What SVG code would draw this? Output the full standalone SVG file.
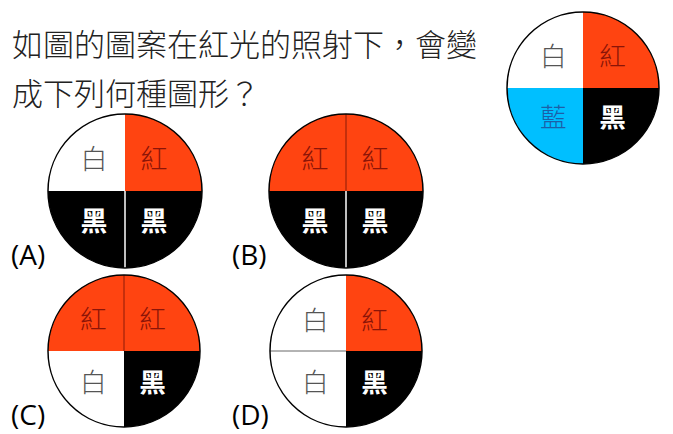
<svg xmlns="http://www.w3.org/2000/svg" width="673" height="434" viewBox="0 0 673 434">
<style>
.q{font-family:"Noto Sans CJK TC","Noto Sans CJK SC",sans-serif;font-size:31px;font-weight:300;fill:#222}
.lab{font-family:"Noto Sans CJK TC",sans-serif;font-size:27px;font-weight:300;text-anchor:middle}
.w{fill:#555}
.r{fill:#8a1408}
.b{fill:#1c5fa8}
.k{fill:#fff;font-weight:bold}
.opt{font-family:"Open Sans","Liberation Sans",sans-serif;font-size:28px;fill:#000}
.red{fill:#ff4411}
.wh{fill:#fff}
.blk{fill:#000}
.blu{fill:#00bfff}
.ring{fill:none;stroke:#000;stroke-width:1.5}
</style>
<defs>
<path id="TL" d="M0,0 L-77,0 A77,77 0 0 1 0,-77 Z"/>
<path id="TR" d="M0,0 L0,-77 A77,77 0 0 1 77,0 Z"/>
<path id="BR" d="M0,0 L77,0 A77,77 0 0 1 0,77 Z"/>
<path id="BL" d="M0,0 L0,77 A77,77 0 0 1 -77,0 Z"/>
</defs>
<rect width="673" height="434" fill="#fff"/>
<g id="question">
<text class="q" x="12" y="56">如圖的圖案在紅光的照射下，會變</text>
<text class="q" x="12" y="105">成下列何種圖形？</text>
</g>
<g id="original" transform="translate(583,88) scale(0.987)">
<use href="#TL" class="wh"/><use href="#TR" class="red"/><use href="#BR" class="blk"/><use href="#BL" class="blu"/>
<circle r="77" class="ring"/>
<text class="lab w" x="-30" y="-22">白</text>
<text class="lab r" x="30" y="-22">紅</text>
<text class="lab b" x="-30" y="40">藍</text>
<text class="lab k" x="30" y="40">黑</text>
</g>
<g id="optionA" transform="translate(125,191)">
<use href="#TL" class="wh"/><use href="#TR" class="red"/><use href="#BR" class="blk"/><use href="#BL" class="blk"/>
<line x1="0" y1="0" x2="0" y2="77" stroke="#fff" stroke-width="1.5"/>
<circle r="77" class="ring"/>
<text class="lab w" x="-31" y="-22">白</text>
<text class="lab r" x="29" y="-22">紅</text>
<text class="lab k" x="-31" y="40">黑</text>
<text class="lab k" x="29" y="40">黑</text>
</g>
<text class="opt" x="11" y="265">(A)</text>
<g id="optionB" transform="translate(346,191)">
<use href="#TL" class="red"/><use href="#TR" class="red"/><use href="#BR" class="blk"/><use href="#BL" class="blk"/>
<line x1="0" y1="-77" x2="0" y2="0" stroke="#8a1a08" stroke-width="1"/>
<line x1="0" y1="0" x2="0" y2="77" stroke="#fff" stroke-width="1.5"/>
<circle r="77" class="ring"/>
<text class="lab r" x="-31" y="-22">紅</text>
<text class="lab r" x="29" y="-22">紅</text>
<text class="lab k" x="-31" y="40">黑</text>
<text class="lab k" x="29" y="40">黑</text>
</g>
<text class="opt" x="232" y="265">(B)</text>
<g id="optionC" transform="translate(124,351) scale(0.987)">
<use href="#TL" class="red"/><use href="#TR" class="red"/><use href="#BR" class="blk"/><use href="#BL" class="wh"/>
<line x1="0" y1="-77" x2="0" y2="0" stroke="#8a1a08" stroke-width="1"/>
<circle r="77" class="ring"/>
<text class="lab r" x="-31" y="-22">紅</text>
<text class="lab r" x="29" y="-22">紅</text>
<text class="lab w" x="-31" y="42">白</text>
<text class="lab k" x="29" y="42">黑</text>
</g>
<text class="opt" x="11" y="425">(C)</text>
<g id="optionD" transform="translate(346,351) scale(0.987)">
<use href="#TL" class="wh"/><use href="#TR" class="red"/><use href="#BR" class="blk"/><use href="#BL" class="wh"/>
<line x1="-77" y1="0" x2="0" y2="0" stroke="#666" stroke-width="1"/>
<circle r="77" class="ring"/>
<text class="lab w" x="-31" y="-21">白</text>
<text class="lab r" x="29" y="-21">紅</text>
<text class="lab w" x="-31" y="42">白</text>
<text class="lab k" x="29" y="42">黑</text>
</g>
<text class="opt" x="232" y="425">(D)</text>
</svg>
